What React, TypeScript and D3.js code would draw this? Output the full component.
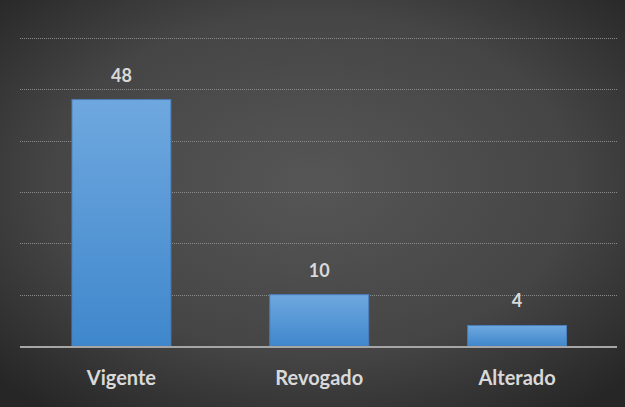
import React, { useRef, useEffect } from 'react';
import * as d3 from 'd3';

const categories = ['Vigente', 'Revogado', 'Alterado'];
const values = [48, 10, 4];
const yTicks = [0, 10, 20, 30, 40, 50, 60];

const W = 625;
const H = 407;

const App: React.FC = () => {
  const svgRef = useRef<SVGSVGElement | null>(null);

  useEffect(() => {
    if (!svgRef.current) return;
    const margin = { top: 38, right: 9, bottom: 61, left: 22.5 };
    const width = W - margin.left - margin.right;
    const height = H - margin.top - margin.bottom;

    const svg = d3.select(svgRef.current);
    svg.selectAll('*').remove();

    const defs = svg.append('defs');
    const bg = defs
      .append('radialGradient')
      .attr('id', 'bg')
      .attr('cx', '50%')
      .attr('cy', '45%')
      .attr('r', '70%');
    bg.append('stop').attr('offset', '0%').attr('stop-color', '#565656');
    bg.append('stop').attr('offset', '60%').attr('stop-color', '#454545');
    bg.append('stop').attr('offset', '100%').attr('stop-color', '#262626');

    const barGrad = defs
      .append('linearGradient')
      .attr('id', 'bar')
      .attr('x1', 0)
      .attr('y1', 0)
      .attr('x2', 0)
      .attr('y2', 1);
    barGrad.append('stop').attr('offset', '0%').attr('stop-color', '#6fa8df');
    barGrad.append('stop').attr('offset', '100%').attr('stop-color', '#3f87cc');

    svg.append('rect').attr('width', W).attr('height', H).attr('fill', 'url(#bg)');

    const g = svg.append('g').attr('transform', `translate(${margin.left},${margin.top})`);

    const x = d3
      .scaleBand()
      .domain(categories)
      .range([0, width])
      .paddingInner(0.5)
      .paddingOuter(0.25);
    const y = d3.scaleLinear().domain([0, 60]).range([height, 0]);

    // gridlines (reach slightly past the band range, as in the original)
    g.append('g')
      .selectAll('line')
      .data(yTicks.filter((t) => t > 0))
      .enter()
      .append('line')
      .attr('x1', -2.5)
      .attr('x2', width + 1)
      .attr('y1', (d) => Math.round(y(d)) + 0.5)
      .attr('y2', (d) => Math.round(y(d)) + 0.5)
      .attr('stroke', '#8a8a8a')
      .attr('stroke-width', 1)
      .attr('stroke-dasharray', '1,1');

    // bars
    g.append('g')
      .selectAll('rect')
      .data(values)
      .enter()
      .append('rect')
      .attr('x', (_, i) => x(categories[i])!)
      .attr('y', (d) => y(d))
      .attr('width', x.bandwidth())
      .attr('height', (d) => height - y(d))
      .attr('fill', 'url(#bar)')
      .attr('stroke', '#4a7ebb')
      .attr('stroke-width', 1);

    // baseline
    g.append('line')
      .attr('x1', -2.5)
      .attr('x2', width + 1)
      .attr('y1', height + 1)
      .attr('y2', height + 1)
      .attr('stroke', '#a6a6a6')
      .attr('stroke-width', 2);

    // value labels
    g.append('g')
      .selectAll('text')
      .data(values)
      .enter()
      .append('text')
      .attr('x', (_, i) => x(categories[i])! + x.bandwidth() / 2)
      .attr('y', (d) => y(d) - 18)
      .attr('text-anchor', 'middle')
      .attr('font-family', 'Lato, "Open Sans", sans-serif')
      .attr('font-weight', 'bold')
      .attr('font-size', 18)
      .attr('fill', '#d9d9d9')
      .text((d) => d);

    // category labels
    g.append('g')
      .selectAll('text')
      .data(categories)
      .enter()
      .append('text')
      .attr('x', (d) => x(d)! + x.bandwidth() / 2)
      .attr('y', height + 39)
      .attr('text-anchor', 'middle')
      .attr('font-family', 'Lato, "Open Sans", sans-serif')
      .attr('font-weight', 'bold')
      .attr('font-size', 20)
      .attr('fill', '#d9d9d9')
      .text((d) => d);
  }, []);

  return (
    <svg
      ref={svgRef}
      width={W}
      height={H}
      style={{ position: 'absolute', left: 0, top: 0 }}
    />
  );
};

export default App;
